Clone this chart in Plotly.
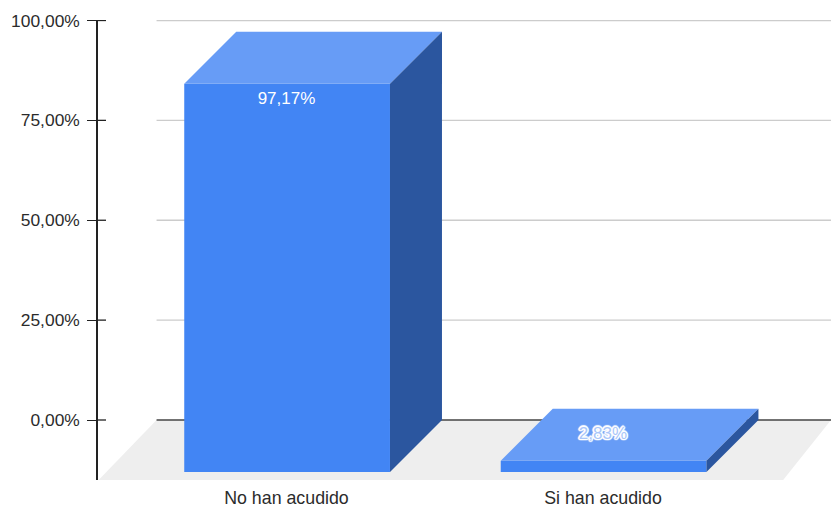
import plotly.graph_objects as go

categories = ["No han acudido", "Si han acudido"]
values = [97.17, 2.83]
value_labels = ["97,17%", "2,83%"]
tick_values = [0, 25, 50, 75, 100]
tick_labels = ["0,00%", "25,00%", "50,00%", "75,00%", "100,00%"]

# Geometry of the pseudo-3D scene, in axis units
DEPTH_Y = 13.03      # oblique shift of the front plane (value units)
DEPTH_X = 0.1643     # oblique shift of the front plane (category units)
BAR_W = 0.65
X_MIN, X_MAX = -0.5975, 1.7185
Y_MIN, Y_MAX = -15.02, 100.125
FLOOR_L, FLOOR_R = X_MIN + 0.002, X_MAX - DEPTH_X * 0.92
BACK_L = X_MIN + 0.185
LABEL_DX = -0.002

FRONT = "#4285f4"
TOP = "#679cf6"
SIDE = "#2b569f"
FLOOR = "#eeeeee"
GRID = "#cccccc"
TEXT = "#2b2b2b"
FONT = "Liberation Sans, Arial, sans-serif"

fig = go.Figure()

# Floor and back-wall gridlines sit under every trace
shapes = [dict(type="path", xref="x", yref="y", layer="below", line=dict(width=0), fillcolor=FLOOR,
               path=f"M{BACK_L},0 L{X_MAX},0 L{FLOOR_R},{Y_MIN} L{FLOOR_L},{Y_MIN} Z")]
for t in tick_values:
    shapes.append(dict(type="line", xref="x", yref="y", layer="below",
                       x0=BACK_L, x1=X_MAX, y0=t, y1=t,
                       line=dict(color="#444444" if t == 0 else GRID, width=1.3)))

# Front face is a real bar; top and side faces follow the values
fig.add_trace(go.Bar(
    x=[0, 1], y=values, base=-DEPTH_Y, width=BAR_W,
    marker=dict(color=FRONT, line=dict(width=0)),
    hoverinfo="skip", showlegend=False))

for i, v in enumerate(values):
    l, r = i - BAR_W / 2, i + BAR_W / 2
    fig.add_trace(go.Scatter(
        x=[l, r, r + DEPTH_X, l + DEPTH_X, l],
        y=[v - DEPTH_Y, v - DEPTH_Y, v, v, v - DEPTH_Y],
        mode="lines", fill="toself", fillcolor=TOP, line=dict(width=0),
        hoverinfo="skip", showlegend=False))
    fig.add_trace(go.Scatter(
        x=[r, r + DEPTH_X, r + DEPTH_X, r, r],
        y=[-DEPTH_Y, 0, v, v - DEPTH_Y, -DEPTH_Y],
        mode="lines", fill="toself", fillcolor=SIDE, line=dict(width=0),
        hoverinfo="skip", showlegend=False))

# Value labels
fig.add_trace(go.Scatter(
    x=[0 + LABEL_DX], y=[values[0] - DEPTH_Y - 4], text=[value_labels[0]],
    mode="text", textposition="middle center",
    textfont=dict(family=FONT, size=17, color="#ffffff"),
    hoverinfo="skip", showlegend=False))
halo = ", ".join(f"{dx}px {dy}px 1px #ffffff" for dx, dy in
                 [(-1, 0), (1, 0), (0, -1), (0, 1), (-1, -1), (1, 1), (-1, 1), (1, -1),
                  (-1.5, 0), (1.5, 0), (0, -1.5), (0, 1.5)])
fig.add_trace(go.Scatter(
    x=[1 + LABEL_DX], y=[values[1] - DEPTH_Y / 2], text=[value_labels[1]],
    mode="text", textposition="middle center",
    textfont=dict(family=FONT, size=17, color="#a9c6fa", shadow=halo),
    hoverinfo="skip", showlegend=False))

# Ticks crossing the axis line
tick_right = X_MIN + 0.0253
shapes += [dict(type="line", xref="x", yref="y", x0=X_MIN, x1=tick_right, y0=t, y1=t,
                line=dict(color="#222222", width=1.3), layer="above")
           for t in tick_values]

fig.update_layout(
    width=831, height=507,
    margin=dict(l=98, r=0, t=20, b=27),
    paper_bgcolor="white", plot_bgcolor="white",
    barmode="overlay", showlegend=False, shapes=shapes,
    font=dict(family=FONT, size=17, color=TEXT),
    xaxis=dict(range=[X_MIN, X_MAX], tickmode="array", tickvals=[-0.002, 0.998], ticktext=categories,
               showgrid=False, zeroline=False, showline=False, ticks="",
               tickfont=dict(family=FONT, size=17.8, color=TEXT), ticklabelstandoff=5),
    yaxis=dict(range=[Y_MIN, Y_MAX], tickmode="array", tickvals=tick_values, ticktext=tick_labels,
               showgrid=False, zeroline=False, showline=True, linecolor="#222222", linewidth=1.5,
               ticks="outside", ticklen=9, tickwidth=1.3, tickcolor="#222222", ticklabelstandoff=4,
               tickfont=dict(family=FONT, size=17.4, color=TEXT)),
)

fig.write_html("out.html", config=dict(displayModeBar=False),
               post_script="document.body.style.margin='0';")
